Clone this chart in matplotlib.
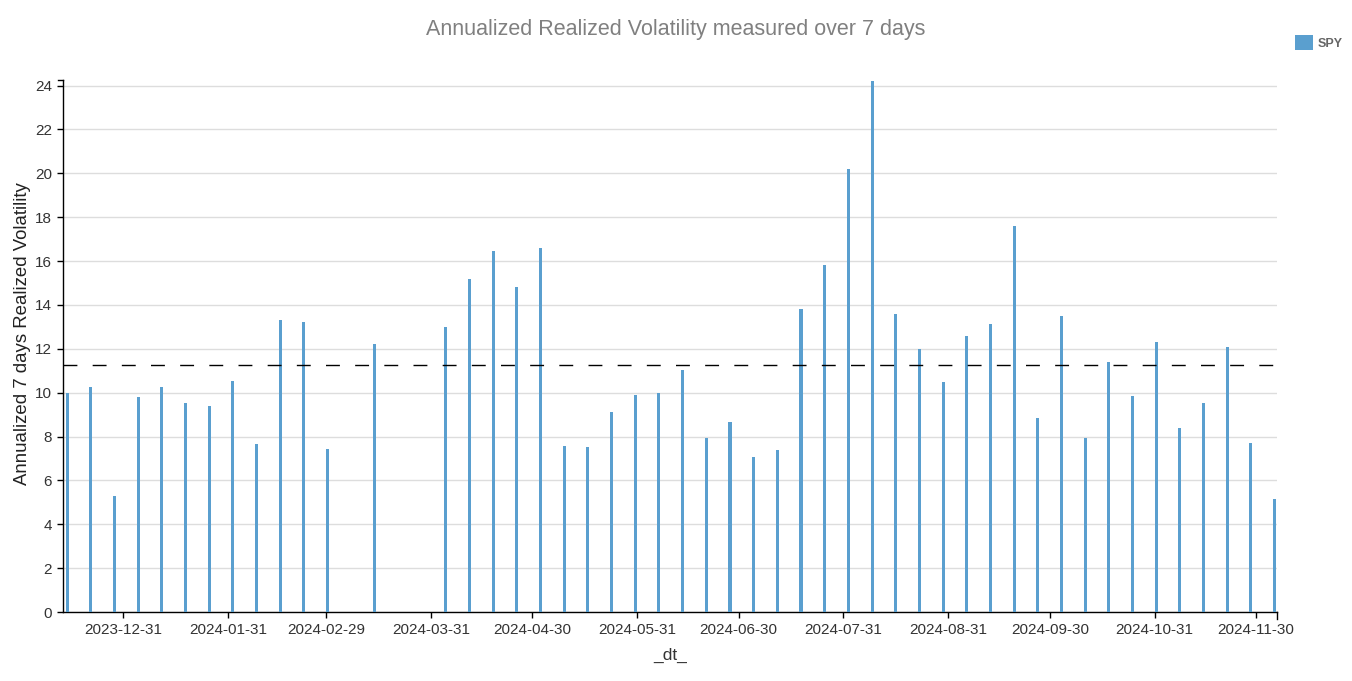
import numpy as np
import pandas as pd
import matplotlib
matplotlib.use('Agg')
import matplotlib.pyplot as plt
import matplotlib.dates as mdates

plt.rcParams['font.family'] = ['Liberation Sans', 'DejaVu Sans']

# weekly observations (Thursdays), a few weeks in March missing
dates = pd.to_datetime([
    '2023-12-14', '2023-12-21', '2023-12-28', '2024-01-04', '2024-01-11',
    '2024-01-18', '2024-01-25', '2024-02-01', '2024-02-08', '2024-02-15',
    '2024-02-22', '2024-02-29', '2024-03-14', '2024-04-04', '2024-04-11',
    '2024-04-18', '2024-04-25', '2024-05-02', '2024-05-09', '2024-05-16',
    '2024-05-23', '2024-05-30', '2024-06-06', '2024-06-13', '2024-06-20',
    '2024-06-27', '2024-07-04', '2024-07-11', '2024-07-18', '2024-07-25',
    '2024-08-01', '2024-08-08', '2024-08-15', '2024-08-22', '2024-08-29',
    '2024-09-05', '2024-09-12', '2024-09-19', '2024-09-26', '2024-10-03',
    '2024-10-10', '2024-10-17', '2024-10-24', '2024-10-31', '2024-11-07',
    '2024-11-14', '2024-11-21', '2024-11-28', '2024-12-05',
])
spy_vol = [
    10.0, 10.25, 5.3, 9.8, 10.25, 9.55, 9.4, 10.55, 7.65, 13.3,
    13.2, 7.45, 12.2, 13.0, 15.2, 16.45, 14.8, 16.6, 7.55, 7.5,
    9.1, 9.9, 10.0, 11.05, 7.95, 8.65, 7.05, 7.4, 13.8, 15.8,
    20.2, 24.2, 13.6, 12.0, 10.5, 12.6, 13.15, 17.6, 8.85, 13.5,
    7.95, 11.4, 9.85, 12.3, 8.4, 9.55, 12.1, 7.7, 5.15,
]
tick_dates = pd.to_datetime([
    '2023-12-31', '2024-01-31', '2024-02-29', '2024-03-31', '2024-04-30',
    '2024-05-31', '2024-06-30', '2024-07-31', '2024-08-31', '2024-09-30',
    '2024-10-31', '2024-11-30',
])

bar_color = '#5a9fcf'

fig = plt.figure(figsize=(13.52, 6.81), dpi=100)
ax = fig.add_axes([0.0466, 0.1013, 0.898, 0.7812])

ax.bar(dates, spy_vol, width=0.9, align='edge', color=bar_color, label='SPY', zorder=3)
ax.axhline(np.mean(spy_vol), color='black', lw=1, dashes=(10, 11), zorder=4)

ax.set_xlim(pd.Timestamp('2023-12-13 06:00'), pd.Timestamp('2024-12-06 05:00'))
ax.set_ylim(0, 24.25)
ax.set_yticks(np.arange(0, 25, 2))
ax.set_xticks(tick_dates)
ax.xaxis.set_major_formatter(mdates.DateFormatter('%Y-%m-%d'))

ax.grid(axis='y', color='#dddddd', lw=1, zorder=0)
ax.set_axisbelow(True)
for s in ['top', 'right']:
    ax.spines[s].set_visible(False)
for s in ['left', 'bottom']:
    ax.spines[s].set_color('black')
    ax.spines[s].set_linewidth(1)
ax.tick_params(direction='out', length=4.5, width=1, colors='black',
               labelcolor='#333333', labelsize=11)
# d3-style outer ticks at the axis ends
ax.plot([1, 1], [0, -0.013], transform=ax.transAxes, color='black', lw=1, clip_on=False)
ax.plot([0, -0.004], [1, 1], transform=ax.transAxes, color='black', lw=1, clip_on=False)

ax.set_xlabel('_dt_', fontsize=12.5, color='#333333', labelpad=8)
ax.set_ylabel('Annualized 7 days Realized Volatility', fontsize=13.4, color='#222222')
ax.yaxis.set_label_coords(-0.026, 0.524)
fig.text(0.5, 0.957, 'Annualized Realized Volatility measured over 7 days',
         ha='center', va='center', fontsize=15.5, color='#808080')

fig.legend(loc='upper right', bbox_to_anchor=(0.993, 0.948), frameon=False,
           borderaxespad=0, borderpad=0,
           handlelength=1.45, handleheight=1.45, handletextpad=0.35,
           prop={'size': 9, 'weight': 'bold'}, labelcolor='#666666')

fig.savefig('out.png', dpi=100)
